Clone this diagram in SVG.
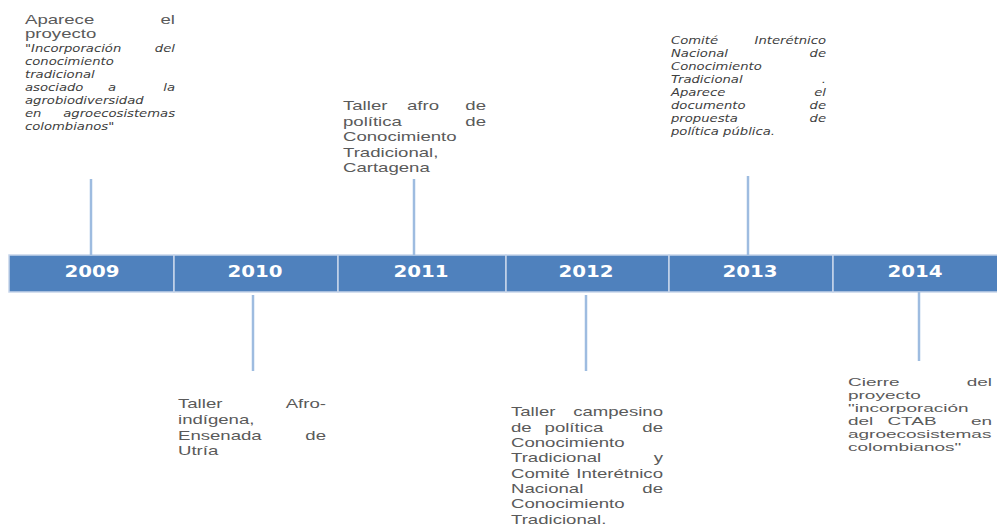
<svg xmlns="http://www.w3.org/2000/svg" width="997" height="531" viewBox="0 0 997 531">
<style>
.s{font-family:"Liberation Sans",Arial,sans-serif;font-size:13px;fill:#5a5a5a}
.s1{font-family:"Liberation Sans",Arial,sans-serif;font-size:12px;fill:#5a5a5a}
.s2{font-family:"Liberation Sans",Arial,sans-serif;font-size:11.3px;fill:#5a5a5a}
.i{font-family:"DejaVu Sans",sans-serif;font-style:oblique;font-size:11px;fill:#404040}
.e{text-anchor:end}
.m{text-anchor:middle}
.yr{font-family:"DejaVu Sans",sans-serif;font-weight:bold;font-size:16px;fill:#ffffff;text-anchor:middle}
.seg{fill:#4f81bd;stroke:#c6d5ea;stroke-width:1.5}
.con{stroke:#9ebce0;stroke-width:2.5;fill:none}
</style>
<rect width="997" height="531" fill="#ffffff"/>
<g id="timeline">
<rect class="seg" x="9" y="255" width="165" height="37"/>
<rect class="seg" x="174" y="255" width="164" height="37"/>
<rect class="seg" x="338" y="255" width="168" height="37"/>
<rect class="seg" x="506" y="255" width="163" height="37"/>
<rect class="seg" x="669" y="255" width="164" height="37"/>
<rect class="seg" x="833" y="255" width="166" height="37"/>
<text class="yr" x="92" y="277" textLength="55" lengthAdjust="spacingAndGlyphs">2009</text>
<text class="yr" x="255" y="277" textLength="55" lengthAdjust="spacingAndGlyphs">2010</text>
<text class="yr" x="421" y="277" textLength="55" lengthAdjust="spacingAndGlyphs">2011</text>
<text class="yr" x="586" y="277" textLength="55" lengthAdjust="spacingAndGlyphs">2012</text>
<text class="yr" x="750" y="277" textLength="55" lengthAdjust="spacingAndGlyphs">2013</text>
<text class="yr" x="915" y="277" textLength="55" lengthAdjust="spacingAndGlyphs">2014</text>
</g>
<g id="connectors">
<line class="con" x1="91" y1="179" x2="91" y2="255"/>
<line class="con" x1="253" y1="295" x2="253" y2="371"/>
<line class="con" x1="414" y1="179" x2="414" y2="255"/>
<line class="con" x1="586" y1="295" x2="586" y2="371"/>
<line class="con" x1="748" y1="176" x2="748" y2="255"/>
<line class="con" x1="919" y1="292" x2="919" y2="361"/>
</g>
<g id="event-2009">
<text class="s1" transform="translate(25,24) scale(1.55,1)">Aparece</text>
<text class="s1 e" transform="translate(175,24) scale(1.55,1)">el</text>
<text class="s1" transform="translate(25,38) scale(1.55,1)">proyecto</text>
<text class="i" transform="translate(25,52) scale(1.2,1)">"Incorporación</text>
<text class="i e" transform="translate(175,52) scale(1.2,1)">del</text>
<text class="i" transform="translate(25,65) scale(1.2,1)">conocimiento</text>
<text class="i" transform="translate(25,78) scale(1.2,1)">tradicional</text>
<text class="i" transform="translate(25,91) scale(1.2,1)">asociado</text>
<text class="i m" transform="translate(112,91) scale(1.2,1)">a</text>
<text class="i e" transform="translate(175,91) scale(1.2,1)">la</text>
<text class="i" transform="translate(25,104) scale(1.2,1)">agrobiodiversidad</text>
<text class="i" transform="translate(25,117) scale(1.2,1)">en</text>
<text class="i e" transform="translate(175,117) scale(1.2,1)">agroecosistemas</text>
<text class="i" transform="translate(25,130) scale(1.2,1)">colombianos"</text>
</g>
<g id="event-2010">
<text class="s" transform="translate(178,408) scale(1.43,1)">Taller</text>
<text class="s e" transform="translate(326,408) scale(1.43,1)">Afro-</text>
<text class="s" transform="translate(178,424) scale(1.43,1)">indígena,</text>
<text class="s" transform="translate(178,439.5) scale(1.43,1)">Ensenada</text>
<text class="s e" transform="translate(326,439.5) scale(1.43,1)">de</text>
<text class="s" transform="translate(178,455) scale(1.43,1)">Utría</text>
</g>
<g id="event-2011">
<text class="s" transform="translate(343,110) scale(1.43,1)">Taller</text>
<text class="s m" transform="translate(423,110) scale(1.43,1)">afro</text>
<text class="s e" transform="translate(486,110) scale(1.43,1)">de</text>
<text class="s" transform="translate(343,125.5) scale(1.43,1)">política</text>
<text class="s e" transform="translate(486,125.5) scale(1.43,1)">de</text>
<text class="s" transform="translate(343,141) scale(1.43,1)">Conocimiento</text>
<text class="s" transform="translate(343,156.5) scale(1.43,1)">Tradicional,</text>
<text class="s" transform="translate(343,172) scale(1.43,1)">Cartagena</text>
</g>
<g id="event-2012">
<text class="s" transform="translate(511,416) scale(1.43,1)">Taller</text>
<text class="s e" transform="translate(663,416) scale(1.43,1)">campesino</text>
<text class="s" transform="translate(511,431.5) scale(1.43,1)">de</text>
<text class="s m" transform="translate(574,431.5) scale(1.43,1)">política</text>
<text class="s e" transform="translate(663,431.5) scale(1.43,1)">de</text>
<text class="s" transform="translate(511,447) scale(1.43,1)">Conocimiento</text>
<text class="s" transform="translate(511,462) scale(1.43,1)">Tradicional</text>
<text class="s e" transform="translate(663,462) scale(1.43,1)">y</text>
<text class="s" transform="translate(511,477.5) scale(1.43,1)">Comité</text>
<text class="s e" transform="translate(663,477.5) scale(1.43,1)">Interétnico</text>
<text class="s" transform="translate(511,493) scale(1.43,1)">Nacional</text>
<text class="s e" transform="translate(663,493) scale(1.43,1)">de</text>
<text class="s" transform="translate(511,508) scale(1.43,1)">Conocimiento</text>
<text class="s" transform="translate(511,524) scale(1.43,1)">Tradicional.</text>
</g>
<g id="event-2013">
<text class="i" transform="translate(671,44) scale(1.2,1)">Comité</text>
<text class="i e" transform="translate(826,44) scale(1.2,1)">Interétnico</text>
<text class="i" transform="translate(671,57) scale(1.2,1)">Nacional</text>
<text class="i e" transform="translate(826,57) scale(1.2,1)">de</text>
<text class="i" transform="translate(671,70) scale(1.2,1)">Conocimiento</text>
<text class="i" transform="translate(671,83) scale(1.2,1)">Tradicional</text>
<text class="i e" transform="translate(826,83) scale(1.2,1)">.</text>
<text class="i" transform="translate(671,96) scale(1.2,1)">Aparece</text>
<text class="i e" transform="translate(826,96) scale(1.2,1)">el</text>
<text class="i" transform="translate(671,109) scale(1.2,1)">documento</text>
<text class="i e" transform="translate(826,109) scale(1.2,1)">de</text>
<text class="i" transform="translate(671,122) scale(1.2,1)">propuesta</text>
<text class="i e" transform="translate(826,122) scale(1.2,1)">de</text>
<text class="i" transform="translate(671,135) scale(1.2,1)">política pública.</text>
</g>
<g id="event-2014">
<text class="s2" transform="translate(848,386) scale(1.68,1)">Cierre</text>
<text class="s2 e" transform="translate(992,386) scale(1.68,1)">del</text>
<text class="s2" transform="translate(848,399) scale(1.68,1)">proyecto</text>
<text class="s2" transform="translate(848,412) scale(1.68,1)">"incorporación</text>
<text class="s2" transform="translate(848,425) scale(1.68,1)">del</text>
<text class="s2 m" transform="translate(912,425) scale(1.68,1)">CTAB</text>
<text class="s2 e" transform="translate(992,425) scale(1.68,1)">en</text>
<text class="s2" transform="translate(848,438) scale(1.68,1)">agroecosistemas</text>
<text class="s2" transform="translate(848,451) scale(1.68,1)">colombianos"</text>
</g>
</svg>
